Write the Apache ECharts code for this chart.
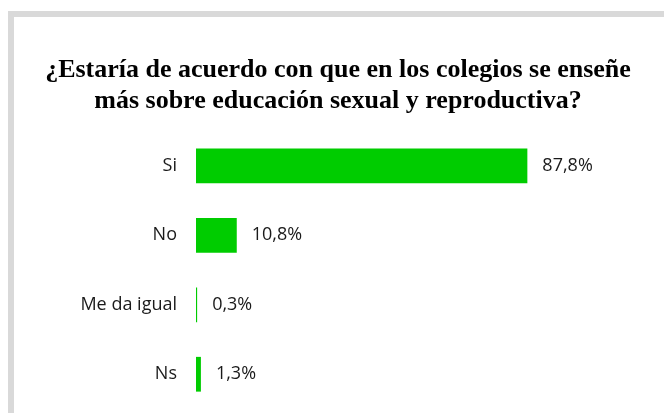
<!DOCTYPE html>
<html>
<head>
<meta charset="utf-8">
<script src="https://cdn.jsdelivr.net/npm/echarts@6/dist/echarts.min.js"></script>
<style>html,body{margin:0;padding:0;background:#fff;}#c{width:664px;height:413px;}</style>
</head>
<body>
<div id="c"></div>
<script>
var titleLines = ['¿Estaría de acuerdo con que en los colegios se enseñe', 'más sobre educación sexual y reproductiva?'];
var categories = ['Si', 'No', 'Me da igual', 'Ns'];
var values = [87.8, 10.8, 0.3, 1.3];
var axisMax = 100;

var chart = echarts.init(document.getElementById('c'), null, {renderer: 'canvas'});
chart.setOption({
  backgroundColor: '#fff',
  animation: false,
  graphic: [
    {type: 'rect', shape: {x: 8, y: 11, width: 656, height: 6}, style: {fill: '#d9d9d9'}, silent: true},
    {type: 'rect', shape: {x: 8, y: 11, width: 6, height: 402}, style: {fill: '#d9d9d9'}, silent: true}
  ],
  title: {
    text: titleLines.join('\n'),
    left: 333,
    textAlign: 'center',
    top: 50,
    textStyle: {
      fontFamily: 'Liberation Serif',
      fontWeight: 'bold',
      fontSize: 26,
      lineHeight: 31,
      color: '#000'
    }
  },
  grid: {left: 196, top: 131, width: 377.4, height: 278, containLabel: false},
  xAxis: {
    type: 'value', min: 0, max: axisMax, show: false
  },
  yAxis: {
    type: 'category', data: categories, inverse: true,
    axisLine: {show: false}, axisTick: {show: false},
    axisLabel: {margin: 19, fontFamily: 'Open Sans', fontSize: 18, color: '#1a1a1a'}
  },
  series: [{
    type: 'bar',
    data: values,
    barWidth: '50%',
    itemStyle: {color: '#00cc00'},
    label: {
      show: true, position: 'right', distance: 15,
      fontFamily: 'Open Sans', fontSize: 18, color: '#1a1a1a',
      formatter: function (p) { return p.value.toFixed(1).replace('.', ',') + '%'; }
    }
  }]
});
</script>
</body>
</html>
